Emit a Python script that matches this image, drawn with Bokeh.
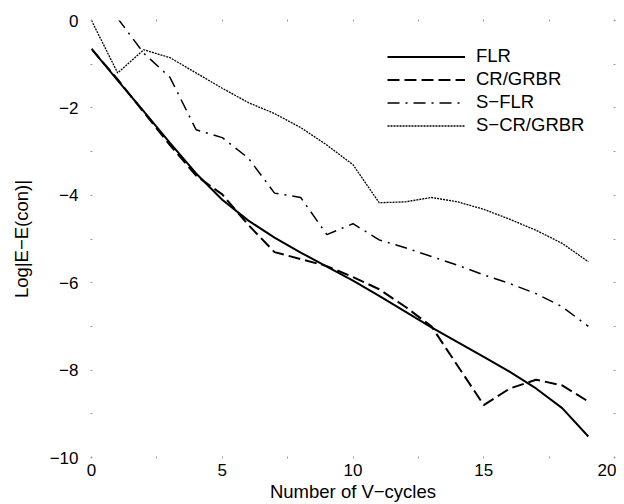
from bokeh.plotting import figure
from bokeh.models import (Range1d, FixedTicker, LinearAxis, Legend, LegendItem,
                          CustomJSTickFormatter)
from bokeh.embed import file_html
from bokeh.resources import INLINE

# ---- data ----
cycles = list(range(20))
flr = [-0.65, -1.37, -2.08, -2.80, -3.50, -4.10, -4.58, -4.97, -5.31, -5.63,
       -5.95, -6.30, -6.66, -7.02, -7.36, -7.70, -8.04, -8.42, -8.87, -9.52]
cr_grbr = [-0.65, -1.35, -2.10, -2.85, -3.55, -3.98, -4.68, -5.30, -5.46, -5.62,
           -5.87, -6.15, -6.55, -7.00, -7.90, -8.80, -8.42, -8.22, -8.35, -8.72]
s_cycles = list(range(1, 20))
s_flr = [0.05, -0.75, -1.30, -2.50, -2.68, -3.15, -3.95, -4.05, -4.90, -4.65,
         -5.02, -5.20, -5.40, -5.60, -5.82, -6.02, -6.25, -6.55, -7.00]
s_cr_grbr = [0.00, -1.20, -0.67, -0.85, -1.20, -1.55, -1.88, -2.13, -2.45, -2.85,
             -3.30, -4.17, -4.15, -4.05, -4.15, -4.32, -4.55, -4.80, -5.10, -5.52]

series_names = ["FLR", "CR/GRBR", "S\u2212FLR", "S\u2212CR/GRBR"]

x_major = [0, 5, 10, 15, 20]
x_minor = [2.5, 7.5, 12.5, 17.5]
y_major = [-10, -8, -6, -4, -2, 0]
y_minor = [-9, -7, -5, -3, -1]

FONT = "Liberation Sans"
TICK_COLOR = "#9a9a9a"

p = figure(width=616, height=504, x_range=Range1d(0, 20), y_range=Range1d(-10, 0),
           output_backend="svg", toolbar_location=None,
           x_axis_location=None, y_axis_location=None,
           min_border_left=91, min_border_right=2, min_border_top=20, min_border_bottom=40)
p.outline_line_color = None
p.grid.visible = False
p.background_fill_color = "white"
p.border_fill_color = "white"

minus_fmt = CustomJSTickFormatter(code="return tick < 0 ? '\u2212' + (-tick) : '' + tick;")
blank_fmt = CustomJSTickFormatter(code="return '';")


def style_axis(ax, labelled):
    ax.axis_line_color = None
    ax.major_tick_line_color = TICK_COLOR
    ax.minor_tick_line_color = TICK_COLOR
    ax.major_tick_in = 1
    ax.major_tick_out = 1
    ax.minor_tick_in = 1
    ax.minor_tick_out = 1
    ax.major_label_text_font = FONT
    ax.major_label_text_color = "black"
    ax.major_label_text_font_size = "17px"
    ax.axis_label_text_font = FONT
    ax.axis_label_text_font_size = "18.5px"
    ax.axis_label_text_font_style = "normal"
    ax.axis_label_text_color = "black"
    if not labelled:
        ax.formatter = blank_fmt
        ax.major_label_standoff = 0


xb = LinearAxis(ticker=FixedTicker(ticks=x_major, minor_ticks=x_minor), formatter=minus_fmt,
                axis_label="Number of V\u2212cycles")
style_axis(xb, True)
xb.major_label_standoff = 5
xb.axis_label_standoff = 2
p.add_layout(xb, "below")

yl = LinearAxis(ticker=FixedTicker(ticks=y_major, minor_ticks=y_minor), formatter=minus_fmt,
                axis_label="Log|E\u2212E(con)|")
style_axis(yl, True)
yl.major_label_standoff = 12
yl.axis_label_standoff = 15
p.add_layout(yl, "left")

xt = LinearAxis(ticker=FixedTicker(ticks=x_major, minor_ticks=x_minor))
style_axis(xt, False)
p.add_layout(xt, "above")

yr = LinearAxis(ticker=FixedTicker(ticks=y_major, minor_ticks=y_minor))
style_axis(yr, False)
p.add_layout(yr, "right")

r1 = p.line(cycles, flr, line_color="black", line_width=2)
r2 = p.line(cycles, cr_grbr, line_color="black", line_width=2, line_dash="12 5")
r3 = p.line(s_cycles, s_flr, line_color="black", line_width=1.5, line_dash="12 6 2 6")
r4 = p.line(cycles, s_cr_grbr, line_color="black", line_width=1.3, line_dash="2 1")

legend = Legend(items=[LegendItem(label=n, renderers=[r]) for n, r in
                       zip(series_names, [r1, r2, r3, r4])],
                location=(296, 320.5))
legend.glyph_width = 78
legend.glyph_height = 23
legend.label_height = 23
legend.label_standoff = 11
legend.spacing = 0
legend.padding = 0
legend.margin = 0
legend.border_line_color = None
legend.background_fill_alpha = 0
legend.label_text_font = FONT
legend.label_text_font_size = "18.5px"
legend.label_text_color = "black"
p.add_layout(legend)

open("out.html", "w").write(file_html(p, INLINE))
